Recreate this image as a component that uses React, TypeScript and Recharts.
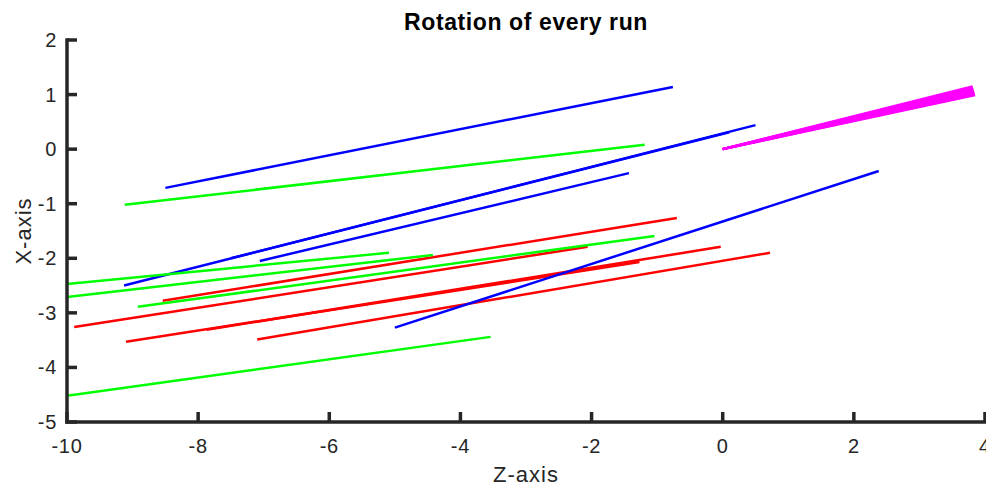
import React from "react";
import { LineChart, Line, XAxis, YAxis } from "recharts";

// Each segment: [z1, x1, z2, x2]
const blueSegments: number[][] = [
  [-8.5, -0.71, -0.76, 1.14],
  [-9.13, -2.5, 0.5, 0.44],
  [-7.5, -2.0, 0.1, 0.31],
  [-7.06, -2.05, -1.43, -0.44],
  [-5.0, -3.27, 2.38, -0.4],
];

const greenSegments: number[][] = [
  [-9.12, -1.02, -1.19, 0.08],
  [-10, -2.47, -5.09, -1.9],
  [-10, -2.71, -4.42, -1.94],
  [-8.92, -2.89, -1.04, -1.59],
  [-10, -4.52, -3.54, -3.44],
];

const redSegments: number[][] = [
  [-8.54, -2.78, -0.7, -1.26],
  [-9.89, -3.26, -2.06, -1.79],
  [-9.1, -3.53, -1.27, -2.07],
  [-7.87, -3.31, -0.03, -1.79],
  [-7.1, -3.49, 0.72, -1.9],
];

const magentaSegments: number[][] = [
  [0, 0, 3.85, 0.99],
  [0, 0, 3.845, 1.01],
  [0, 0, 3.84, 1.03],
  [0, 0, 3.835, 1.05],
  [0, 0, 3.83, 1.07],
  [0, 0, 3.825, 1.09],
  [0, 0, 3.82, 1.11],
  [0, 0, 3.815, 1.13],
  [0, 0, 3.81, 1.15],
];

const xTicks = [-10, -8, -6, -4, -2, 0, 2, 4];
const yTicks = [-5, -4, -3, -2, -1, 0, 1, 2];

const TITLE = "Rotation of every run";
const X_LABEL = "Z-axis";
const Y_LABEL = "X-axis";

const AX = "#262626";
const FONT = "'Liberation Sans', Arial, Helvetica, sans-serif";

const toData = (s: number[]) => [
  { x: s[0], y: s[1] },
  { x: s[2], y: s[3] },
];

const XTick = (props: any) => {
  const { x, y, payload } = props;
  return (
    <g>
      <line x1={x} x2={x} y1={y} y2={y - 10} stroke={AX} strokeWidth={3.5} />
      <text
        x={x}
        y={y + 31}
        textAnchor="middle"
        fontFamily={FONT}
        fontSize={20}
        letterSpacing={0.7}
        fill={AX}
      >
        {payload.value}
      </text>
    </g>
  );
};

const YTick = (props: any) => {
  const { x, y, payload } = props;
  return (
    <g>
      <line x1={x} x2={x + 10} y1={y} y2={y} stroke={AX} strokeWidth={3.5} />
      <text
        x={x - 10}
        y={y + 7}
        textAnchor="end"
        fontFamily={FONT}
        fontSize={20}
        letterSpacing={0.7}
        fill={AX}
      >
        {payload.value}
      </text>
    </g>
  );
};

const renderLines = (segs: number[][], color: string, prefix: string) =>
  segs.map((s, i) => (
    <Line
      key={`${prefix}${i}`}
      data={toData(s)}
      dataKey="y"
      type="linear"
      stroke={color}
      strokeWidth={2.5}
      dot={false}
      activeDot={false}
      isAnimationActive={false}
    />
  ));

export default function App() {
  return (
    <div style={{ position: "absolute", left: 0, top: 0, width: 986, height: 486, background: "#fff" }}>
      <LineChart width={986} height={486} margin={{ top: 40, right: 1, bottom: 0, left: 0 }}>
        <XAxis
          type="number"
          dataKey="x"
          domain={[-10, 4]}
          ticks={xTicks}
          interval={0}
          allowDataOverflow
          height={64}
          tickSize={0}
          tickMargin={0}
          tickLine={false}
          axisLine={{ stroke: AX, strokeWidth: 3.5, strokeLinecap: "square" }}
          tick={(p: any) => <XTick {...p} />}
        />
        <YAxis
          type="number"
          dataKey="y"
          domain={[-5, 2]}
          ticks={yTicks}
          interval={0}
          allowDataOverflow
          width={67}
          tickSize={0}
          tickMargin={0}
          tickLine={false}
          axisLine={{ stroke: AX, strokeWidth: 3.5, strokeLinecap: "square" }}
          tick={(p: any) => <YTick {...p} />}
        />
        {renderLines(redSegments, "#ff0000", "r")}
        {renderLines(blueSegments, "#0000ff", "b")}
        {renderLines(greenSegments, "#00ff00", "g")}
        {renderLines(magentaSegments, "#ff00ff", "m")}
      </LineChart>
      <svg
        width={986}
        height={486}
        style={{ position: "absolute", left: 0, top: 0, pointerEvents: "none" }}
      >
        <text x={526} y={30} textAnchor="middle" fontFamily={FONT} fontWeight="bold" fontSize={23} letterSpacing={0.6} fill="#000">
          {TITLE}
        </text>
        <text x={526} y={482} textAnchor="middle" fontFamily={FONT} fontSize={22} letterSpacing={1} fill={AX}>
          {X_LABEL}
        </text>
        <text
          x={0}
          y={0}
          transform="translate(31 231) rotate(-90)"
          textAnchor="middle"
          fontFamily={FONT}
          fontSize={22}
          letterSpacing={1}
          fill={AX}
        >
          {Y_LABEL}
        </text>
      </svg>
    </div>
  );
}
